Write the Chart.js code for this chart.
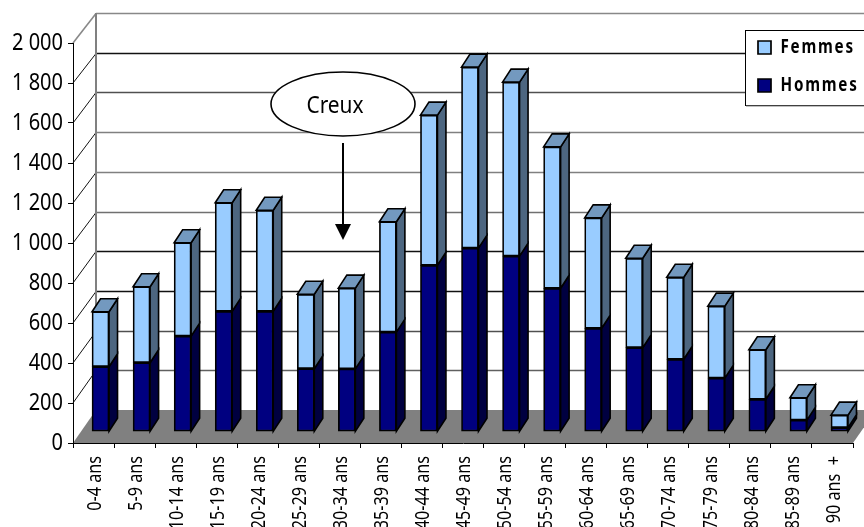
<!DOCTYPE html>
<html><head><meta charset="utf-8">
<style>html,body{margin:0;padding:0;background:#fff}canvas{display:block}</style>
<script src="https://cdn.jsdelivr.net/npm/chart.js@4"></script>
</head><body>
<canvas id="c" width="864" height="527"></canvas>
<script>
const categories = ['0-4 ans','5-9 ans','10-14 ans','15-19 ans','20-24 ans','25-29 ans','30-34 ans','35-39 ans','40-44 ans','45-49 ans','50-54 ans','55-59 ans','60-64 ans','65-69 ans','70-74 ans','75-79 ans','80-84 ans','85-89 ans','90 ans  +'];
const hommes = [325,345,478,602,602,315,314,498,832,918,878,717,517,420,362,268,162,58,20];
const femmes = [275,380,467,543,505,372,404,552,751,905,870,707,552,447,410,360,248,112,63];
const yTickLabels = {0:'0',200:'200',400:'400',600:'600',800:'800',1000:'1 000',1200:'1 200',1400:'1 400',1600:'1 600',1800:'1 800',2000:'2 000'};
const gridShades = {0:'#808080',200:'#606060',400:'#505050',600:'#111111',800:'#111111',1000:'#707070',1200:'#808080',1400:'#808080',1600:'#505050',1800:'#111111',2000:'#888888'};

const C_FEMME='#99CCFF', C_HOMME='#000080', SIDE_F='#4D6680', SIDE_H='#000040', TOP_F='#7399BF';
const FONT='"Noto Sans"';
// plot geometry of the pseudo-3D frame
const WALL_DX=23, WALL_DY_TOP=-30, WALL_DY_BOT=-33;
const BAR_DX=7, BAR_DY=-11.3, DEPTH_X=8.5, DEPTH_Y=13;

const canvas=document.getElementById('c');
const ctx=canvas.getContext('2d');
// condensed rendering of all chart text (the reference font is narrow)
const rawFill=ctx.fillText.bind(ctx);
ctx.fillText=function(t,x,y){
  const f=ctx.font, bold=f.includes('bold') || f.includes('700');
  let k=0.87;
  if(bold) k=0.8; else if(f.startsWith('20px')) k=0.81;
  ctx.save();
  ctx.translate(x,y); ctx.scale(k,1);
  if(bold) ctx.letterSpacing='2.2px';
  rawFill(t,0,0);
  ctx.restore();
};

const frame={id:'frame',
  afterLayout(chart){
    const l=chart.legend; const p=l.options.labels.padding;
    l.left=758-p; l.top=38-p; l.right=864; l.bottom=120;
  },
  beforeDraw(chart){
    const {ctx:g,chartArea:a,scales:{y}}=chart;
    const W=chart.width;
    const front=v=>y.getPixelForValue(v);
    const t=(v)=>v/y.max;
    const back=v=>front(v)+WALL_DY_BOT+(WALL_DY_TOP-WALL_DY_BOT)*t(v);
    g.save();
    // floor
    g.fillStyle='#808080';
    g.beginPath();
    g.moveTo(a.left,a.bottom);g.lineTo(a.right,a.bottom);g.lineTo(a.right+WALL_DX,back(0));g.lineTo(a.left+WALL_DX,back(0));
    g.closePath();g.fill();
    // back wall grid lines + side wall diagonals
    y.ticks.forEach(tk=>{
      const by=Math.round(back(tk.value))+0.5;
      g.strokeStyle=gridShades[tk.value];g.lineWidth=1.4;
      if(tk.value>0){g.beginPath();g.moveTo(a.left+WALL_DX,by);g.lineTo(W,by);g.stroke();}
      g.strokeStyle=tk.value===y.max?'#888888':'#111111';g.lineWidth=tk.value===y.max?1.6:1;
      if(tk.value>0){g.beginPath();g.moveTo(a.left,front(tk.value));g.lineTo(a.left+WALL_DX,by);g.stroke();}
    });
    g.strokeStyle='#808080';g.lineWidth=2;
    g.beginPath();g.moveTo(a.left+WALL_DX,back(y.max));g.lineTo(a.left+WALL_DX,back(0));g.stroke();
    // legend frame
    g.fillStyle='#fff';g.fillRect(746,30,130,75);
    g.strokeStyle='#000';g.lineWidth=1;g.strokeRect(745.5,30.5,130,75);
    g.strokeStyle='#808080';g.beginPath();g.moveTo(746,106);g.lineTo(864,106);g.stroke();
    g.restore();
  },
  beforeDatasetsDraw(chart){
    chart.ctx.save();
    chart.ctx.translate(BAR_DX,BAR_DY);
  },
  afterDatasetsDraw(chart){
    const g=chart.ctx;
    const poly=(pts,fill)=>{
      g.fillStyle=fill;g.strokeStyle='#000';g.lineWidth=1.6;g.lineJoin='miter';
      g.beginPath();pts.forEach((p,i)=>i?g.lineTo(p[0],p[1]):g.moveTo(p[0],p[1]));g.closePath();g.fill();g.stroke();
    };
    const sides=[SIDE_H,SIDE_F];
    chart.data.datasets.forEach((ds,di)=>{
      chart.getDatasetMeta(di).data.forEach(el=>{
        const p=el.getProps(['x','y','base','width'],true);
        const l=p.x-p.width/2,r=p.x+p.width/2;
        poly([[r,p.y],[r+DEPTH_X,p.y-DEPTH_Y],[r+DEPTH_X,p.base-DEPTH_Y],[r,p.base]],sides[di]);
        if(di===1) poly([[l,p.y],[l+DEPTH_X,p.y-DEPTH_Y],[r+DEPTH_X,p.y-DEPTH_Y],[r,p.y]],TOP_F);
      });
    });
    g.restore();
    // "Creux" annotation
    g.save();
    g.fillStyle='#fff';g.strokeStyle='#000';g.lineWidth=1.6;
    g.beginPath();g.ellipse(343,104,72,32,0,0,Math.PI*2);g.fill();g.stroke();
    g.fillStyle='#000';g.font='24px '+FONT;g.textAlign='center';g.textBaseline='middle';
    g.fillText('Creux',335,106);
    g.lineWidth=2;g.beginPath();g.moveTo(343,143);g.lineTo(343,226);g.stroke();
    g.beginPath();g.moveTo(335,224);g.lineTo(351,224);g.lineTo(343,240);g.closePath();g.fill();
    g.restore();
  }
};

new Chart(canvas,{
  type:'bar',
  data:{labels:categories,datasets:[
    {label:'Hommes',data:hommes,backgroundColor:C_HOMME,borderColor:'#000',borderWidth:1.7,borderSkipped:false,barThickness:17,clip:false},
    {label:'Femmes',data:femmes,backgroundColor:C_FEMME,borderColor:'#000',borderWidth:1.7,borderSkipped:false,barThickness:17,clip:false}
  ]},
  options:{
    responsive:false,animation:false,
    layout:{padding:{top:43,right:11,left:0,bottom:0}},
    plugins:{
      tooltip:{enabled:false},
      title:{display:false},
      legend:{display:true,position:'chartArea',align:'start',reverse:true,
        labels:{boxWidth:13,boxHeight:13,padding:19,color:'#000',font:{family:FONT,size:19,weight:'bold'}}}
    },
    scales:{
      x:{stacked:true,
        afterFit(s){s.height=84;s.paddingLeft=0;s.paddingRight=0;},
        grid:{display:true,drawOnChartArea:false,drawTicks:true,tickLength:5,color:'#000',offset:true},
        border:{display:true,color:'#000',width:1},
        ticks:{minRotation:90,maxRotation:90,autoSkip:false,padding:8,labelOffset:1.5,color:'#000',font:{family:FONT,size:20}}},
      y:{stacked:true,min:0,max:2000,
        afterFit(s){s.width=73;s.paddingTop=0;s.paddingBottom=0;},
        grid:{display:true,drawOnChartArea:false,drawTicks:true,tickLength:5,color:'#000'},
        border:{display:true,color:'#000',width:1},
        ticks:{stepSize:200,padding:5,color:'#000',font:{family:FONT,size:23},callback:v=>yTickLabels[v]}}
    }
  },
  plugins:[frame]
});
</script>
</body></html>
